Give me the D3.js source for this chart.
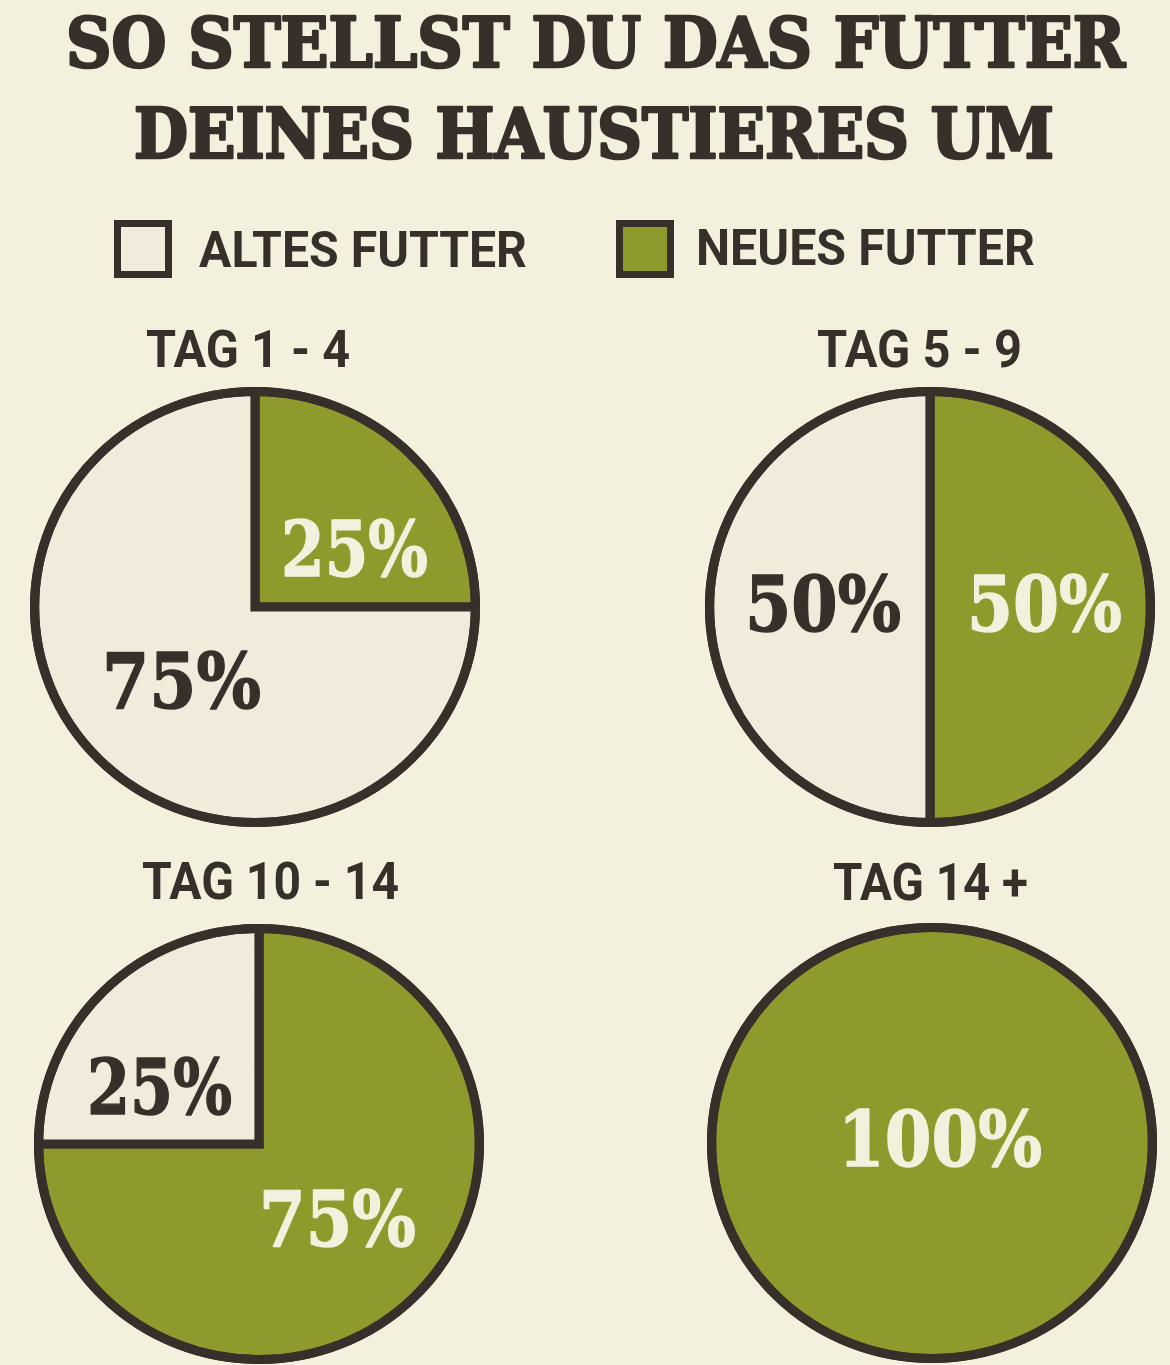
<!DOCTYPE html>
<html>
<head>
<meta charset="utf-8">
<script src="https://cdn.jsdelivr.net/npm/d3@7"></script>
<style>
  html, body { margin: 0; padding: 0; background: #f3f1de; }
  svg { display: block; }
</style>
</head>
<body>
<svg id="chart" width="1170" height="1365"></svg>
<script>
// ---------- DATA ----------
const titleLines = ["SO STELLST DU DAS FUTTER", "DEINES HAUSTIERES UM"];
const seriesNames = ["ALTES FUTTER", "NEUES FUTTER"];
const seriesKeys = ["alt", "neu"];
const dayLabels = ["TAG 1 - 4", "TAG 5 - 9", "TAG 10 - 14", "TAG 14 +"];
const altesShare = [75, 50, 25, 0];
const neuesShare = [25, 50, 75, 100];

// ---------- LAYOUT / STYLE ----------
const W = 1170, H = 1365;
const colors = {
  bg: "#f3f1de",
  alt: "#f2ebdc",
  neu: "#8e9a2b",
  ink: "#382f2b",
  light: "#f3f1dd"
};
const titleLayout = [ {x: 66, y: 67, w: 1059}, {x: 134, y: 158, w: 920} ];
const legendLayout = [
  {box: [114, 220], text: {x: 199, y: 267, w: 328}},
  {box: [616, 220], text: {x: 696, y: 265, w: 339}}
];
const boxSize = 58, boxStroke = 7;
const pieCenters = [[255, 607], [930, 607], [259, 1144], [932, 1143]];
const outerRy = 220, outerRx = 225, strokeW = 9;
const dayLayout = [
  {x: 146, y: 367, w: 204}, {x: 817, y: 367, w: 205},
  {x: 142, y: 899, w: 257}, {x: 833, y: 900, w: 195}
];
const pctLayout = [
  {neu: {x: 281, y: 576, w: 147}, alt: {x: 102, y: 708, w: 159}},
  {alt: {x: 745, y: 631, w: 156}, neu: {x: 967, y: 631, w: 155}},
  {alt: {x: 87, y: 1114, w: 145}, neu: {x: 259, y: 1246, w: 157}},
  {neu: {x: 838, y: 1166, w: 204}}
];

const titleFont = "'DejaVu Serif Condensed', 'DejaVu Serif', serif";
const pctFont = "'DejaVu Serif', serif";
const sansFont = "Roboto, 'DejaVu Sans', sans-serif";

// ---------- DRAW ----------
const svg = d3.select("#chart");
svg.append("rect").attr("width", W).attr("height", H).attr("fill", colors.bg);

function fitText(g, str, lay, opts) {
  return g.append("text")
    .attr("x", lay.x).attr("y", lay.y)
    .attr("textLength", lay.w)
    .attr("lengthAdjust", "spacingAndGlyphs")
    .attr("font-family", opts.family)
    .attr("font-size", opts.size)
    .attr("font-weight", opts.weight || 700)
    .attr("font-stretch", opts.stretch || "normal")
    .attr("fill", opts.fill)
    .attr("stroke", opts.bold ? opts.fill : "none")
    .attr("stroke-width", opts.bold || 0)
    .attr("stroke-linejoin", "round")
    .text(str);
}

// Title
titleLines.forEach((t, i) => {
  fitText(svg, t, titleLayout[i], {family: titleFont, size: 69, weight: 700, stretch: "condensed", fill: colors.ink, bold: 2.6});
});

// Legend
seriesNames.forEach((name, i) => {
  const L = legendLayout[i];
  svg.append("rect")
    .attr("x", L.box[0] + boxStroke / 2).attr("y", L.box[1] + boxStroke / 2)
    .attr("width", boxSize - boxStroke).attr("height", boxSize - boxStroke)
    .attr("fill", colors[seriesKeys[i]])
    .attr("stroke", colors.ink).attr("stroke-width", boxStroke);
  fitText(svg, name, L.text, {family: sansFont, size: 50, weight: 700, fill: colors.ink});
});

// Pies
const r = outerRy - strokeW / 2;
const pie = d3.pie().sort(null).value(d => d.value);
const arc = d3.arc().innerRadius(0).outerRadius(r);
const sx = outerRx / outerRy;

dayLabels.forEach((day, i) => {
  fitText(svg, day, dayLayout[i], {family: sansFont, size: 52, weight: 700, fill: colors.ink});

  const data = [
    {key: "neu", value: neuesShare[i]},
    {key: "alt", value: altesShare[i]}
  ].filter(d => d.value > 0);

  const [cx, cy] = pieCenters[i];
  const g = svg.append("g").attr("transform", `translate(${cx},${cy}) scale(${sx},1)`);

  g.selectAll("path.slice")
    .data(pie(data))
    .join("path")
    .attr("class", "slice")
    .attr("d", arc)
    .attr("fill", d => colors[d.data.key])
    .attr("stroke", colors.ink)
    .attr("stroke-width", strokeW)
    .attr("stroke-linejoin", "miter");

  g.append("circle")
    .attr("r", r)
    .attr("fill", "none")
    .attr("stroke", colors.ink)
    .attr("stroke-width", strokeW);

  data.forEach(d => {
    const lay = pctLayout[i][d.key];
    const c = d.key === "neu" ? colors.light : colors.ink;
    fitText(svg, d.value + "%", lay, {
      family: pctFont, size: 76, weight: 700, fill: c, bold: 1.4
    });
  });
});
</script>
</body>
</html>
